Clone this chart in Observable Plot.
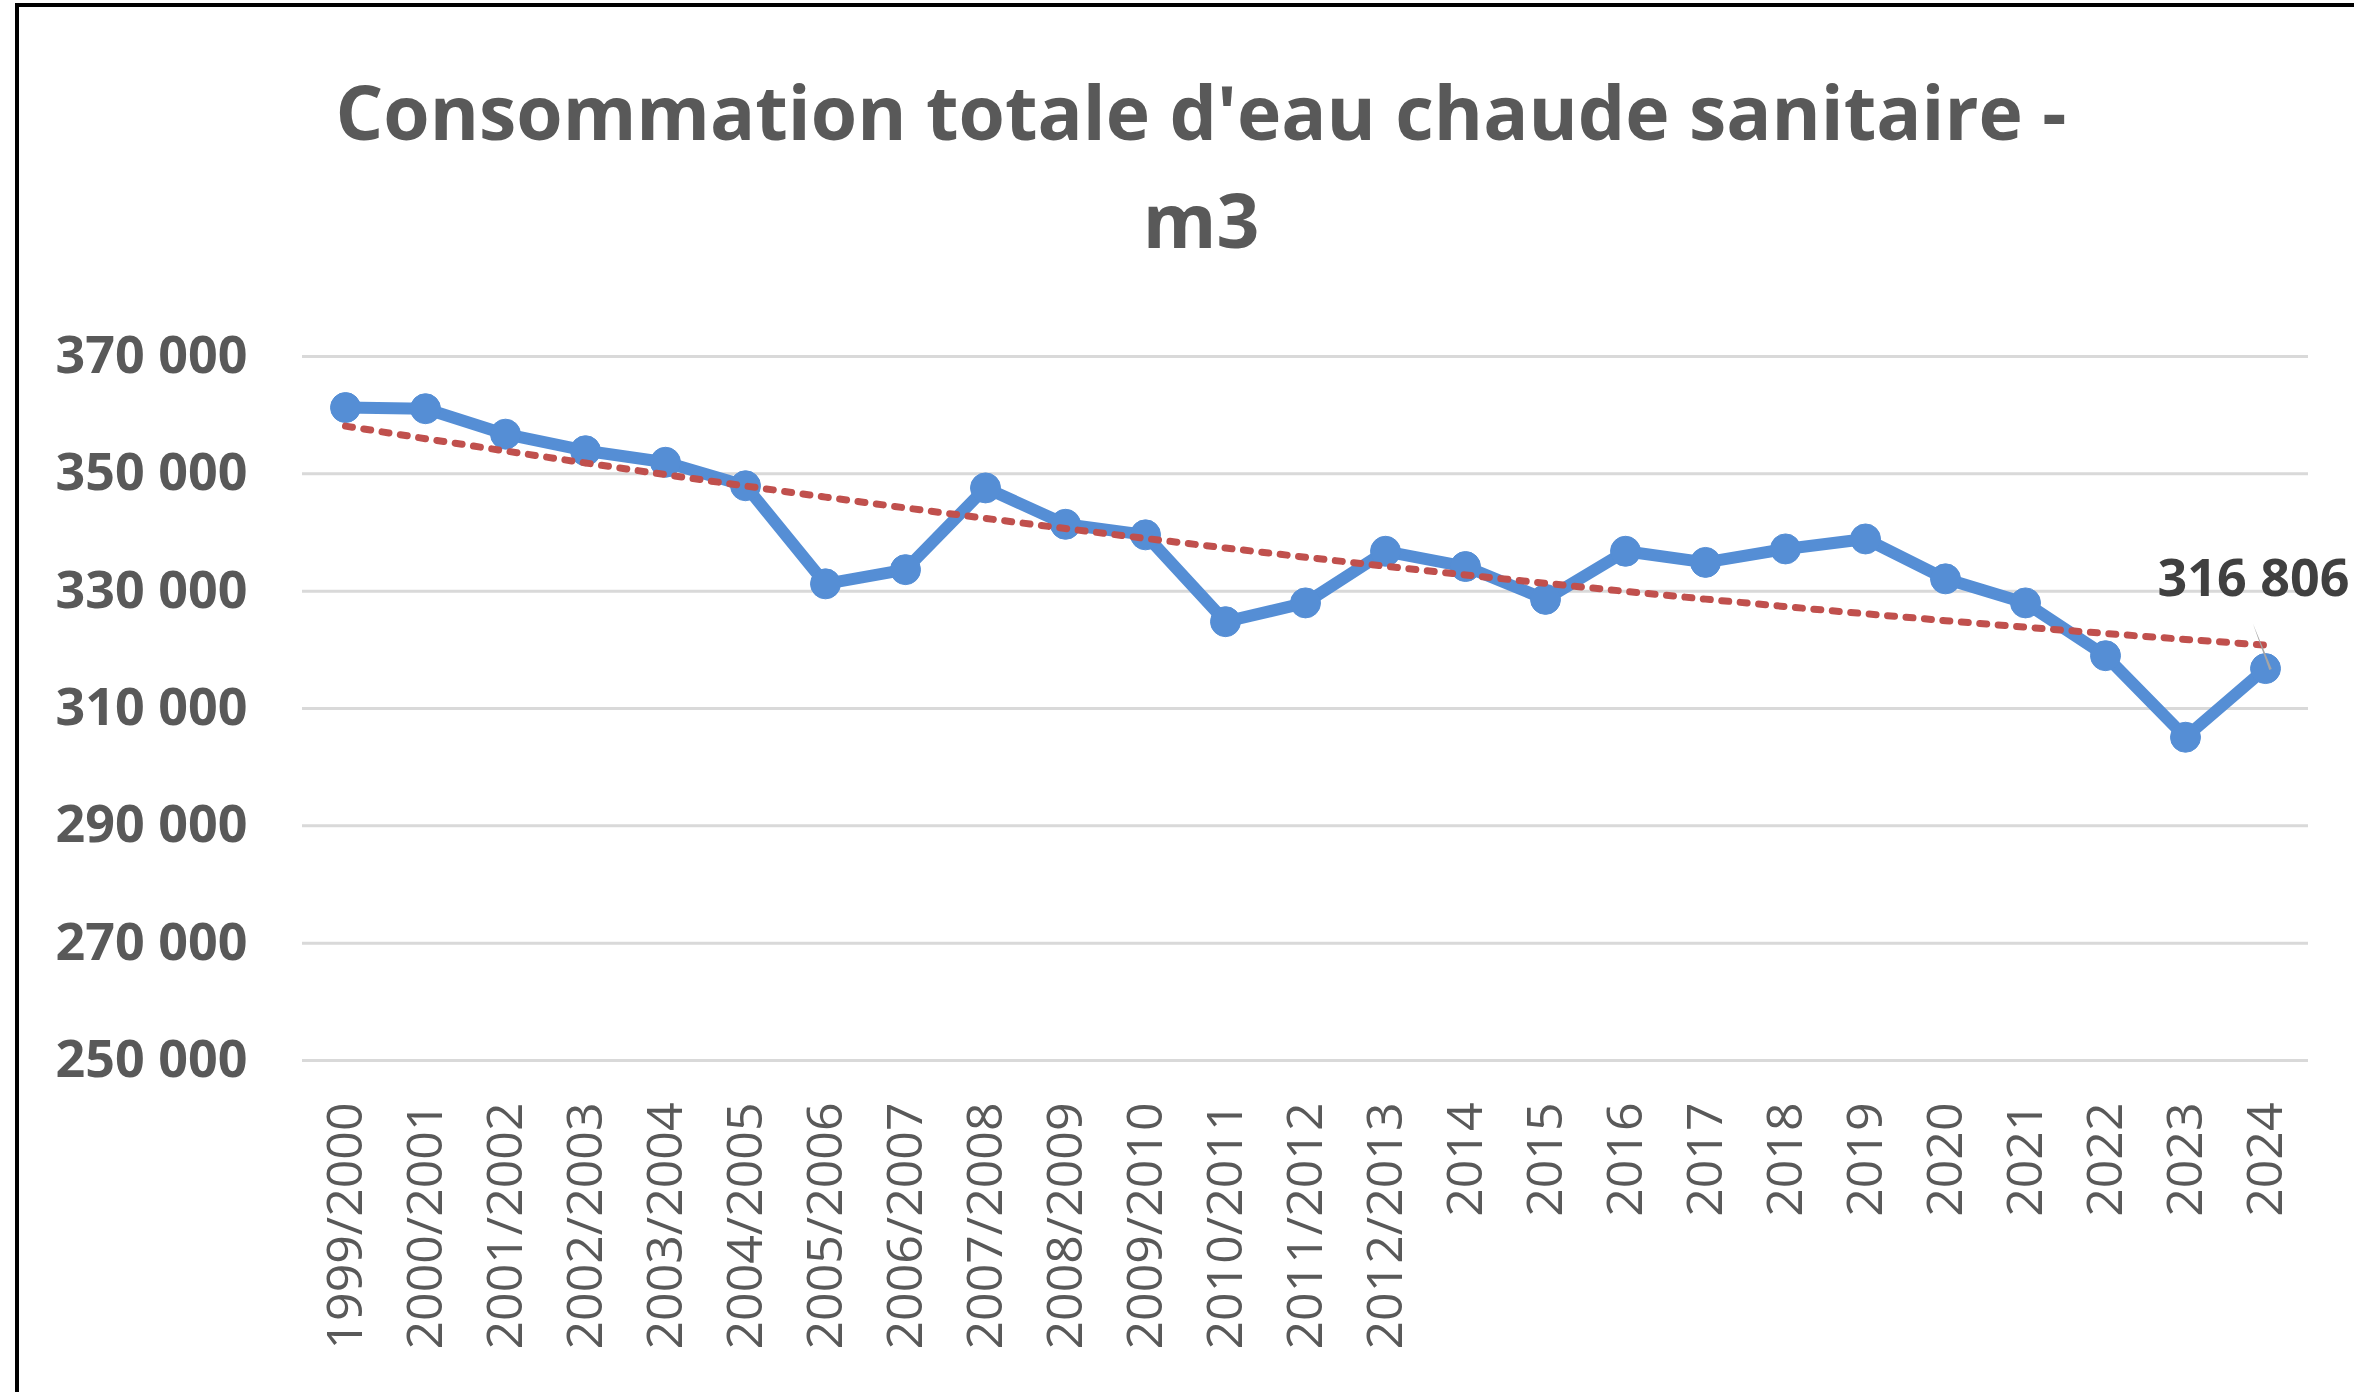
<!DOCTYPE html>
<html>
<head>
<meta charset="utf-8">
<script src="https://cdn.jsdelivr.net/npm/d3@7"></script>
<script src="https://cdn.jsdelivr.net/npm/@observablehq/plot@0.6"></script>
<style>
  html, body { margin: 0; padding: 0; background: #ffffff; overflow: hidden; }
  #wrap { position: relative; width: 2354px; height: 1392px; overflow: hidden; background: #fff; }
  #title { position: relative; height: 290px; width: 2354px; }
  .tline { position: absolute; left: 201px; width: 2000px; text-align: center;
           font-family: "Open Sans", sans-serif; font-weight: 700; font-size: 75px;
           line-height: 75px; color: #595959; white-space: nowrap; }
  #border { position: absolute; left: 15px; top: 3px; width: 4000px; height: 4000px;
            border: 4px solid #000; pointer-events: none; z-index: 5; }
</style>
</head>
<body>
<div id="wrap">
  <div id="title">
    <div class="tline" style="top:74px">Consommation totale d'eau chaude sanitaire -</div>
    <div class="tline" style="top:182px">m3</div>
  </div>
  <div id="chart"></div>
  <div id="border"></div>
</div>
<script>
const categories = ["1999/2000","2000/2001","2001/2002","2002/2003","2003/2004","2004/2005",
  "2005/2006","2006/2007","2007/2008","2008/2009","2009/2010","2010/2011","2011/2012",
  "2012/2013","2014","2015","2016","2017","2018","2019","2020","2021","2022","2023","2024"];
const values = [361300, 361100, 356760, 353940, 351970, 347970, 331250, 333670, 347600,
  341400, 339600, 324800, 328000, 336800, 334200, 328600, 336800, 334900, 337200, 338900,
  332100, 328000, 319000, 305100, 316806];
const yTicks = [250000, 270000, 290000, 310000, 330000, 350000, 370000];
const labelledCategory = "2024";

const data = categories.map((c, i) => ({category: c, value: values[i]}));

// Polynomial (order 2) trend line, least squares on x = 1..n (as a spreadsheet does)
function quadFit(ys) {
  const S = [0,0,0,0,0], T = [0,0,0];
  ys.forEach((y, i) => {
    const t = i + 1;
    for (let k = 0; k < 5; k++) S[k] += Math.pow(t, k);
    for (let k = 0; k < 3; k++) T[k] += Math.pow(t, k) * y;
  });
  const A = [[S[0],S[1],S[2],T[0]],[S[1],S[2],S[3],T[1]],[S[2],S[3],S[4],T[2]]];
  for (let c = 0; c < 3; c++) {
    for (let r = c + 1; r < 3; r++) {
      const f = A[r][c] / A[c][c];
      for (let k = c; k < 4; k++) A[r][k] -= f * A[c][k];
    }
  }
  const x = [0,0,0];
  for (let r = 2; r >= 0; r--) {
    let s = A[r][3];
    for (let k = r + 1; k < 3; k++) s -= A[r][k] * x[k];
    x[r] = s / A[r][r];
  }
  return ys.map((_, i) => x[0] + x[1] * (i + 1) + x[2] * (i + 1) * (i + 1));
}
const trendValues = quadFit(values);
const trend = categories.map((c, i) => ({category: c, value: trendValues[i]}));

const fr = d3.formatLocale({decimal: ",", thousands: " ", grouping: [3], currency: ["", " €"]});
const fmt = fr.format(",d");

const blue = "#558ED5";
const labelled = data.filter(d => d.category === labelledCategory);

const chart = Plot.plot({
  width: 2354,
  height: 1102,
  marginTop: 66,
  marginBottom: 332,
  marginLeft: 302,
  marginRight: 46,
  style: {fontFamily: "'Open Sans', sans-serif", background: "transparent", overflow: "visible"},
  x: {type: "point", domain: categories, padding: 0.5, label: null},
  y: {domain: [250000, 370000], label: null},
  marks: [
    Plot.gridY(yTicks, {stroke: "#D9D9D9", strokeWidth: 3, strokeOpacity: 1}),
    Plot.axisY({ticks: yTicks, tickSize: 0, tickPadding: 55, tickFormat: fmt, label: null,
      fontSize: 52, fontWeight: "bold", color: "#595959"}),
    Plot.axisX({tickSize: 0, tickPadding: 42, tickRotate: -90, label: null,
      fontSize: 50, color: "#595959"}),
    Plot.line(data, {x: "category", y: "value", stroke: blue, strokeWidth: 12,
      strokeLinejoin: "round", strokeLinecap: "round"}),
    Plot.dot(data, {x: "category", y: "value", r: 15, fill: blue, stroke: blue, strokeWidth: 1}),
    Plot.line(trend, {x: "category", y: "value", stroke: "#C0504D", strokeWidth: 7,
      strokeDasharray: "7,11.5"}),
    Plot.vector(labelled, {x: "category", y: "value", anchor: "start", length: 49, rotate: -21,
      shape: "spike", r: 1.3, fill: "#A6A6A6", stroke: "none", dx: 5, dy: 1}),
    Plot.text(labelled, {x: "category", y: "value", text: d => fmt(d.value), dx: -12, dy: -89,
      fontSize: 52, fontWeight: "bold", fill: "#404040"})
  ]
});
document.getElementById("chart").appendChild(chart);
</script>
</body>
</html>
